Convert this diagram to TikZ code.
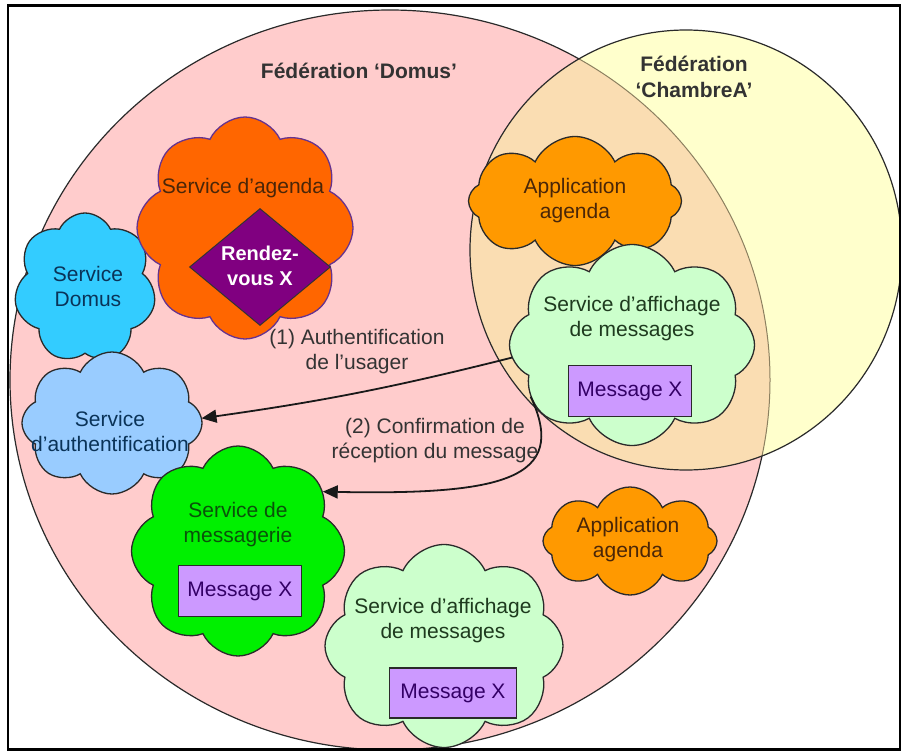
\documentclass[tikz,border=0pt]{standalone}
\usepackage{fontspec}
\setmainfont{Liberation Sans}
\usetikzlibrary{shapes.symbols,shapes.geometric,arrows.meta}

\definecolor{domusfill}{HTML}{FFCCCC}
\definecolor{chambrefill}{HTML}{FFFFCC}
\definecolor{overlapfill}{HTML}{FADDB2}
\definecolor{edge}{HTML}{2A2A2A}
\definecolor{inneredge}{HTML}{8C8060}
\definecolor{agendafill}{HTML}{FF6600}
\definecolor{agendaline}{HTML}{66338F}
\definecolor{rdvfill}{HTML}{800080}
\definecolor{domusblue}{HTML}{33CCFF}
\definecolor{authblue}{HTML}{99CCFF}
\definecolor{msggreen}{HTML}{00F000}
\definecolor{paleg}{HTML}{CCFFCC}
\definecolor{appfill}{HTML}{FF9900}
\definecolor{boxfill}{HTML}{CC99FF}
\definecolor{boxtext}{HTML}{330066}
\definecolor{browntext}{HTML}{4A2608}
\definecolor{navytext}{HTML}{0A3358}
\definecolor{greentext}{HTML}{0A520A}
\definecolor{paletext}{HTML}{1E3A1E}
\definecolor{labeltext}{HTML}{333333}

\begin{document}
\begin{tikzpicture}[x=1pt,y=-1pt,
  svc/.style={cloud, cloud ignores aspect, cloud puff arc=130, draw=edge,
              line width=1.3pt, inner sep=0pt, outer sep=0pt},
  txt/.style={font=\fontsize{21}{25}\selectfont, align=center, inner sep=0pt},
  msgbox/.style={rectangle, draw=edge, line width=1.5pt, fill=boxfill,
                 minimum width=123pt, minimum height=51pt, inner sep=0pt,
                 text=boxtext, font=\fontsize{21}{25}\selectfont},
  link/.style={line width=1.8pt, draw=black!90,
               -{Triangle[length=15pt,width=13pt]}}]

\useasboundingbox (0,0) rectangle (904,752);

\begin{scope}
  \clip (8,5.5) rectangle (900,749.5);

  % the two federations
  \fill[domusfill] (390,380) ellipse [x radius=380, y radius=370];
  \draw[edge, line width=1.2pt] (390,380) ellipse [x radius=380, y radius=370];
  \fill[chambrefill] (686,250) ellipse [x radius=216, y radius=220];
  \begin{scope}
    \clip (390,380) ellipse [x radius=380, y radius=370];
    \fill[overlapfill] (686,250) ellipse [x radius=216, y radius=220];
  \end{scope}
  \begin{scope}
    \clip (686,250) ellipse [x radius=216, y radius=220];
    \draw[inneredge, line width=1pt]
      (390,380) ellipse [x radius=380, y radius=370];
  \end{scope}
  \draw[edge, line width=1.2pt] (686,250) ellipse [x radius=216, y radius=220];

  \node[txt, font=\bfseries\fontsize{21}{25}\selectfont, text=labeltext]
    (tdomus) at (359,71) {Fédération ‘Domus’};
  \node[txt, font=\bfseries\fontsize{21}{26}\selectfont, text=labeltext]
    (tchambre) at (694,77) {Fédération\\‘ChambreA’};

  % services of the Domus federation
  \node[svc, fill=domusblue, minimum width=142pt, minimum height=150pt,
        cloud puffs=7, shape border rotate=10] (dom) at (85,288) {};
  \node[svc, fill=agendafill, draw=agendaline, minimum width=216pt,
        minimum height=222pt, cloud puffs=8, shape border rotate=5] (ag) at (245,228) {};
  \node[diamond, fill=rdvfill, draw=black!80, line width=1pt, inner sep=0pt,
        minimum width=141pt, minimum height=117pt] (rdv) at (260,267) {};
  \node[svc, fill=authblue, minimum width=180pt, minimum height=142pt,
        cloud puffs=8, shape border rotate=20] (auth) at (112,423) {};
  \node[svc, fill=msggreen, minimum width=213pt, minimum height=210pt,
        cloud puffs=8, shape border rotate=15] (msg) at (238,551) {};
  \node[svc, fill=paleg, minimum width=238pt, minimum height=203pt,
        cloud puffs=8, shape border rotate=0] (aff2) at (444,646) {};
  \node[svc, fill=appfill, minimum width=174pt, minimum height=108pt,
        cloud puffs=8, shape border rotate=12] (app2) at (630,541) {};

  % services of the ChambreA federation
  \node[svc, fill=appfill, minimum width=213pt, minimum height=129pt,
        cloud puffs=8, shape border rotate=0] (app1) at (575,201) {};
  \node[svc, fill=paleg, minimum width=245pt, minimum height=201pt,
        cloud puffs=8, shape border rotate=8] (aff1) at (632,345) {};

  % messages held by the services
  \node[msgbox] (m1) at (630,391) {Message X};
  \node[msgbox] (m2) at (240,591) {Message X};
  \node[msgbox, minimum width=127pt, minimum height=50pt] (m3) at (453,693) {Message X};

  % service names
  \node[txt, text=browntext] (tag) at (243,188) {Service d’agenda};
  \node[txt, text=white, font=\bfseries\fontsize{20}{25}\selectfont]
    (trdv) at (260,266) {Rendez-\\vous X};
  \node[txt, text=navytext] (tdom) at (88,286) {Service\\Domus};
  \node[txt, text=navytext] (tauth) at (110,431) {Service\\d’authentification};
  \node[txt, text=greentext] (tmsg) at (238,525) {Service de\\messagerie};
  \node[txt, text=paletext] (taff2) at (443,621) {Service d’affichage\\de messages};
  \node[txt, text=browntext] (tapp2) at (628,540) {Application\\agenda};
  \node[txt, text=browntext] (tapp1) at (575,201) {Application\\agenda};
  \node[txt, text=paletext] (taff1) at (632,319) {Service d’affichage\\de messages};

  % interactions
  \draw[link] (aff1.186) to[bend left=3] (auth.3);
  \draw[link] (aff1.207) .. controls (570,480) and (500,495) .. (msg.35);

  \node[txt, text=labeltext] (l1) at (357,352) {(1) Authentification\\de l’usager};
  \node[txt, text=labeltext] (l2) at (435,441) {(2) Confirmation de\\réception du message};
\end{scope}

% frame
\draw[black, line width=2.5pt] (8,5.5) rectangle (900,749.5);
\end{tikzpicture}
\end{document}
